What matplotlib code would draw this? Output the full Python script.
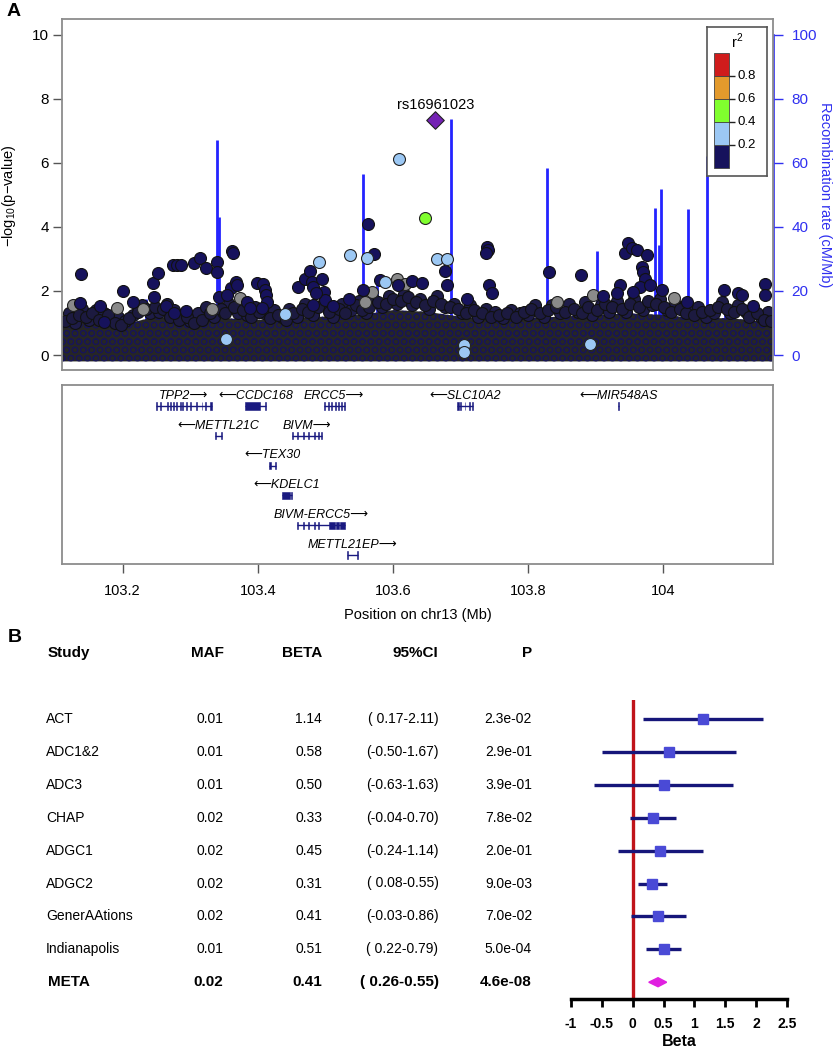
import numpy as np
import matplotlib
matplotlib.use('Agg')
import matplotlib.pyplot as plt
from matplotlib.patches import Rectangle, Polygon

plt.rcParams['font.family'] = ['Liberation Sans', 'DejaVu Sans']
plt.rcParams['axes.unicode_minus'] = False
plt.rcParams['mathtext.fontset'] = 'custom'
plt.rcParams['mathtext.rm'] = 'Liberation Sans'
plt.rcParams['hatch.linewidth'] = 0.6

W, H = 835, 1050

# ---------------- panel A : regional association ----------------
lead_name = 'rs16961023'
lead_pos, lead_logp = 103.663, 7.34

# SNPs that stand out of the dense cloud (position Mb, -log10 p)
navy_pos = [103.138, 103.200, 103.215, 103.167, 103.137, 103.172, 103.245, 103.253, 103.246, 103.264,
            103.276, 103.294, 103.275, 103.280, 103.287, 103.306, 103.315, 103.324, 103.339, 103.340,
            103.342, 103.362, 103.364, 103.360, 103.368, 103.370, 103.384, 103.389, 103.354, 103.399,
            103.408, 103.411, 103.413, 103.414, 103.407, 103.460, 103.470, 103.477, 103.480, 103.482,
            103.496, 103.498, 103.500, 103.487, 103.482, 103.512, 103.536, 103.556, 103.563, 103.573,
            103.581, 103.608, 103.628, 103.644, 103.678, 103.680, 103.710, 103.739, 103.741, 103.738,
            103.742, 103.747, 103.831, 103.879, 103.911, 103.937, 103.932, 103.944, 103.949, 103.955,
            103.962, 103.977, 103.970, 103.971, 103.974, 103.966, 103.981, 103.999, 103.956, 104.036,
            104.091, 104.112, 104.117, 104.152, 104.152, 104.134]
navy_logp = [2.53, 2.01, 1.66, 1.53, 1.63, 1.04, 2.26, 2.57, 1.82, 1.53,
             1.32, 1.38, 2.81, 2.81, 2.81, 2.86, 3.02, 2.73, 2.91, 2.58,
             1.82, 3.26, 3.20, 2.08, 2.29, 2.19, 1.66, 1.46, 1.87, 2.24,
             2.22, 2.03, 1.87, 1.66, 1.46, 2.13, 2.36, 2.63, 2.29, 2.13,
             2.36, 1.98, 1.72, 1.93, 1.56, 1.53, 1.74, 2.03, 4.09, 3.15,
             2.34, 2.19, 2.32, 2.26, 2.63, 2.19, 1.75, 3.38, 3.28, 3.17,
             2.19, 1.95, 2.60, 2.50, 1.84, 2.19, 1.93, 3.19, 3.49, 3.33,
             3.28, 3.12, 2.76, 2.60, 2.36, 2.13, 2.19, 2.03, 1.98, 1.66,
             2.03, 1.95, 1.87, 2.22, 1.87, 1.53]
gray_pos = [103.127, 103.191, 103.230, 103.332, 103.374, 103.569, 103.559, 103.606, 103.618, 103.843,
            103.897, 104.016]
gray_logp = [1.56, 1.46, 1.43, 1.43, 1.77, 1.98, 1.66, 2.36, 2.22, 1.66,
             1.87, 1.77]
ltblue_pos = [103.491, 103.537, 103.562, 103.589, 103.440, 103.353, 103.609, 103.666, 103.681, 103.706,
              103.706, 103.893]
ltblue_logp = [2.91, 3.12, 3.02, 2.27, 1.28, 0.50, 6.11, 2.99, 2.99, 0.31,
               0.10, 0.34]
green_pos = [103.648]
green_logp = [4.29]

# upper layers of the dense cloud of weak SNPs
cloud_pos = [103.115, 103.125, 103.135, 103.145, 103.155, 103.165, 103.178, 103.188, 103.198, 103.210,
             103.222, 103.235, 103.248, 103.260, 103.270, 103.283, 103.295, 103.305, 103.318, 103.330,
             103.345, 103.352, 103.365, 103.378, 103.390, 103.402, 103.418, 103.430, 103.442, 103.452,
             103.465, 103.475, 103.490, 103.505, 103.520, 103.530, 103.545, 103.555, 103.565, 103.578,
             103.590, 103.600, 103.612, 103.622, 103.635, 103.648, 103.660, 103.672, 103.685, 103.697,
             103.708, 103.720, 103.732, 103.745, 103.757, 103.770, 103.782, 103.795, 103.805, 103.818,
             103.830, 103.842, 103.855, 103.868, 103.880, 103.890, 103.902, 103.915, 103.925, 103.940,
             103.952, 103.965, 103.978, 103.990, 104.002, 104.012, 104.025, 104.035, 104.047, 104.058,
             104.070, 104.082, 104.095, 104.105, 104.118, 104.128, 104.140, 104.150, 104.160]
cloud_logp = [1.05, 1.15, 1.25, 1.20, 1.30, 1.10, 1.25, 1.00, 0.95, 1.15,
              1.35, 1.45, 1.50, 1.45, 1.20, 1.10, 1.20, 1.00, 1.10, 1.30,
              1.45, 1.30, 1.50, 1.40, 1.20, 1.35, 1.15, 1.25, 1.10, 1.30,
              1.45, 1.35, 1.50, 1.35, 1.45, 1.30, 1.55, 1.40, 1.50, 1.65,
              1.60, 1.75, 1.70, 1.80, 1.65, 1.55, 1.70, 1.60, 1.50, 1.45,
              1.30, 1.40, 1.30, 1.20, 1.25, 1.30, 1.20, 1.35, 1.45, 1.30,
              1.40, 1.50, 1.35, 1.45, 1.30, 1.50, 1.40, 1.60, 1.50, 1.45,
              1.60, 1.50, 1.70, 1.60, 1.50, 1.35, 1.45, 1.30, 1.25, 1.35,
              1.40, 1.50, 1.45, 1.35, 1.45, 1.20, 1.30, 1.10, 1.05]
cloud2_pos = [103.120, 103.130, 103.140, 103.150, 103.160, 103.172, 103.183, 103.193, 103.204, 103.216,
              103.228, 103.241, 103.254, 103.265, 103.276, 103.289, 103.300, 103.312, 103.324, 103.336,
              103.348, 103.358, 103.371, 103.384, 103.396, 103.410, 103.424, 103.436, 103.447, 103.458,
              103.470, 103.482, 103.497, 103.512, 103.525, 103.538, 103.550, 103.560, 103.571, 103.584,
              103.595, 103.606, 103.617, 103.629, 103.641, 103.654, 103.666, 103.678, 103.691, 103.703,
              103.714, 103.726, 103.738, 103.751, 103.763, 103.776, 103.788, 103.800, 103.811, 103.824,
              103.836, 103.848, 103.861, 103.874, 103.885, 103.896, 103.908, 103.920, 103.933, 103.946,
              103.958, 103.971, 103.984, 103.996, 104.007, 104.018, 104.030, 104.041, 104.052, 104.064,
              104.076, 104.088, 104.100, 104.111, 104.123, 104.134, 104.145, 104.156]
cloud2_logp = [1.30, 1.00, 1.45, 1.10, 1.40, 1.30, 1.15, 1.20, 1.05, 1.25,
               1.55, 1.30, 1.35, 1.60, 1.40, 1.25, 1.05, 1.30, 1.50, 1.20,
               1.35, 1.60, 1.30, 1.25, 1.50, 1.30, 1.40, 1.20, 1.45, 1.20,
               1.60, 1.25, 1.60, 1.20, 1.60, 1.40, 1.70, 1.30, 1.75, 1.50,
               1.85, 1.60, 1.90, 1.55, 1.75, 1.45, 1.85, 1.50, 1.60, 1.30,
               1.55, 1.20, 1.45, 1.35, 1.15, 1.40, 1.30, 1.25, 1.55, 1.20,
               1.55, 1.30, 1.60, 1.35, 1.65, 1.25, 1.55, 1.35, 1.70, 1.35,
               1.75, 1.40, 1.55, 1.75, 1.40, 1.60, 1.50, 1.40, 1.50, 1.20,
               1.30, 1.65, 1.30, 1.55, 1.35, 1.45, 1.20, 1.35]
# solid part of the cloud (top of the mass)
band_pos = [103.110, 103.15, 103.20, 103.25, 103.30, 103.35, 103.40, 103.45, 103.50, 103.55, 103.60,
            103.65, 103.70, 103.75, 103.80, 103.85, 103.90, 103.95, 104.00, 104.05, 104.10, 104.165]
band_top = [1.00, 1.05, 0.95, 1.20, 1.05, 1.15, 1.10, 1.15, 1.20, 1.25, 1.40,
            1.35, 1.20, 1.10, 1.15, 1.20, 1.25, 1.30, 1.25, 1.15, 1.15, 1.00]

# recombination rate peaks (cM/Mb)
recomb_pos = [103.234, 103.340, 103.343, 103.556, 103.577, 103.686, 103.828, 103.902, 103.988, 103.995,
              103.998, 104.037, 104.066, 104.093]
recomb_rate = [17.5, 67.0, 43.0, 56.4, 25.0, 73.6, 58.5, 32.6, 45.8, 34.5,
               51.8, 45.6, 62.0, 17.8]

r2_edges = [0.0, 0.2, 0.4, 0.6, 0.8, 1.0]
r2_colors = ['#16125c', '#9cc8f4', '#80ff2e', '#e39a2c', '#d01c1c']

# ---------------- genes ----------------
gene_name = ['TPP2', 'CCDC168', 'ERCC5', 'SLC10A2', 'MIR548AS', 'METTL21C', 'BIVM', 'TEX30',
             'KDELC1', 'BIVM-ERCC5', 'METTL21EP']
gene_strand = [1, -1, 1, -1, -1, -1, 1, -1, -1, 1, 1]
gene_row = [0, 0, 0, 0, 0, 1, 1, 2, 3, 4, 5]
gene_start = [103.2495, 103.3810, 103.4975, 103.6957, 103.9338, 103.3367, 103.4504, 103.4167,
              103.4356, 103.4578, 103.5319]
gene_end = [103.3320, 103.4120, 103.5290, 103.7194, 103.9346, 103.3476, 103.4948, 103.4271,
            103.4513, 103.5293, 103.5481]
gene_exons = [
    [(103.2495, 103.2510), (103.2550, 103.2562), (103.2655, 103.2672), (103.2695, 103.2712),
     (103.2745, 103.2762), (103.2795, 103.2812), (103.2845, 103.2860), (103.2885, 103.2900),
     (103.2935, 103.2950), (103.2990, 103.3005), (103.3090, 103.3102), (103.3170, 103.3182),
     (103.3225, 103.3237), (103.3295, 103.3320)],
    [(103.3810, 103.4030), (103.4105, 103.4120)],
    [(103.4975, 103.4992), (103.5040, 103.5055), (103.5090, 103.5105), (103.5140, 103.5155),
     (103.5190, 103.5205), (103.5240, 103.5255), (103.5272, 103.5290)],
    [(103.6957, 103.6985), (103.7000, 103.7015), (103.7065, 103.7078), (103.7130, 103.7142),
     (103.7182, 103.7194)],
    [(103.9338, 103.9346)],
    [(103.3367, 103.3382), (103.3460, 103.3476)],
    [(103.4504, 103.4520), (103.4580, 103.4595), (103.4670, 103.4684), (103.4743, 103.4757),
     (103.4840, 103.4855), (103.4890, 103.4905), (103.4932, 103.4948)],
    [(103.4167, 103.4200), (103.4255, 103.4271)],
    [(103.4356, 103.4480), (103.4496, 103.4513)],
    [(103.4578, 103.4592), (103.4670, 103.4684), (103.4743, 103.4757), (103.4840, 103.4855),
     (103.4890, 103.4905), (103.5060, 103.5150), (103.5162, 103.5210), (103.5225, 103.5293)],
    [(103.5319, 103.5334), (103.5465, 103.5481)],
]
pos_ticks = [103.2, 103.4, 103.6, 103.8, 104.0]

# ---------------- panel B : meta-analysis ----------------
studies = ['ACT', 'ADC1&2', 'ADC3', 'CHAP', 'ADGC1', 'ADGC2', 'GenerAAtions', 'Indianapolis', 'META']
maf = [0.01, 0.01, 0.01, 0.02, 0.02, 0.02, 0.02, 0.01, 0.02]
beta = [1.14, 0.58, 0.50, 0.33, 0.45, 0.31, 0.41, 0.51, 0.41]
ci_lo = [0.17, -0.50, -0.63, -0.04, -0.24, 0.08, -0.03, 0.22, 0.26]
ci_hi = [2.11, 1.67, 1.63, 0.70, 1.14, 0.55, 0.86, 0.79, 0.55]
pval = [2.3e-02, 2.9e-01, 3.9e-01, 7.8e-02, 2.0e-01, 9.0e-03, 7.0e-02, 5.0e-04, 4.6e-08]
beta_ticks = [-1, -0.5, 0, 0.5, 1, 1.5, 2, 2.5]


def r2_color(r2):
    if r2 is None:
        return '#8a8a8a'
    for lo, hi, c in zip(r2_edges[:-1], r2_edges[1:], r2_colors):
        if lo <= r2 < hi:
            return c
    return r2_colors[-1]


fig = plt.figure(figsize=(W / 100, H / 100), dpi=100)


def px_axes(left, top, right, bottom):
    return fig.add_axes([left / W, 1 - bottom / H, (right - left) / W, (bottom - top) / H])


# overlay for free text, in pixel units
tab = px_axes(0, 0, W, H)
tab.set_xlim(0, W)
tab.set_ylim(H, 0)
tab.axis('off')

FRAME = '#8c8c8c'
BLUE = '#3030f0'

# ---- association plot ----
ax = px_axes(62, 19, 773, 370)
ax2 = ax.twinx()
ax.set_zorder(ax2.get_zorder() + 1)
ax.patch.set_visible(False)

xlim = (103.1101, 104.1634)
ax.set_xlim(*xlim)
ax.set_ylim(-0.468, 10.49)
ax2.set_ylim(-4.68, 104.9)

ax2.vlines(recomb_pos, 0, recomb_rate, color='#2424ff', lw=2.0, zorder=1)

ax.fill_between(band_pos, -0.2, band_top, facecolor='#262626', edgecolor='#17145a', hatch='OO',
                lw=0, zorder=1)
ms = 74
ax.scatter(cloud2_pos, cloud2_logp, s=ms, c='#1e1c48', edgecolors='#111111', linewidths=0.8, zorder=2)
ax.scatter(cloud_pos, cloud_logp, s=ms, c='#1c1a40', edgecolors='#111111', linewidths=0.8, zorder=2)
ax.scatter(gray_pos, gray_logp, s=ms, c=r2_color(None), edgecolors='#222222', linewidths=0.8, zorder=3)
ax.scatter(navy_pos, navy_logp, s=ms, c=r2_color(0.1), edgecolors='#111111', linewidths=0.8, zorder=3)
ax.scatter(ltblue_pos, ltblue_logp, s=ms, c=r2_color(0.3), edgecolors='#222222', linewidths=0.8, zorder=4)
ax.scatter(green_pos, green_logp, s=ms, c=r2_color(0.5), edgecolors='#222222', linewidths=0.8, zorder=4)
ax.scatter([lead_pos], [lead_logp], s=80, marker='D', c='#7422b4', edgecolors='#222222',
           linewidths=0.8, zorder=5)
ax.annotate(lead_name, (lead_pos, lead_logp), xytext=(0, 11), textcoords='offset points',
            ha='center', va='center', fontsize=10.5, zorder=6)

ax.set_yticks([0, 2, 4, 6, 8, 10])
ax.set_xticks([])
ax.tick_params(axis='y', length=6.5, width=1, color='#555555', labelsize=11, pad=3)
for s in ax.spines.values():
    s.set_color(FRAME)
    s.set_linewidth(1.3)
ax2.set_yticks([0, 20, 40, 60, 80, 100])
ax2.tick_params(axis='y', length=6.5, width=1, color=BLUE, labelcolor=BLUE, labelsize=11, pad=6)
for name, s in ax2.spines.items():
    s.set_visible(False)
ax2.spines['right'].set_visible(True)
ax2.spines['right'].set_color(BLUE)
ax2.spines['right'].set_linewidth(1.2)
ax2.spines['right'].set_bounds(0, 100)
ax2.spines['right'].set_position(('outward', 1))

tab.text(9, 196, r'$-$log$_{10}$(p$-$value)', rotation=90, ha='center', va='center', fontsize=10.5)
tab.text(825, 195, 'Recombination rate (cM/Mb)', rotation=270, ha='center', va='center',
         fontsize=10.5, color=BLUE)
tab.text(14, 12, 'A', fontsize=14, fontweight='bold', ha='center', va='center')
tab.text(15, 637, 'B', fontsize=14, fontweight='bold', ha='center', va='center')

# r2 legend
leg = px_axes(706.7, 26.7, 766.7, 176)
leg.set_zorder(10)
leg.set_xlim(0, 60)
leg.set_ylim(-0.0666, 1.225)
leg.bar(7.6, 0.2, width=15, bottom=r2_edges[:-1], color=r2_colors, align='edge',
        edgecolor='#444444', linewidth=0.6)
leg.hlines(r2_edges[1:-1], 22.6, 28.4, color='#222222', lw=1)
for v in r2_edges[1:-1]:
    leg.text(31, v, f'{v:.1f}', fontsize=9.5, va='center', ha='left')
leg.text(30, 1.10, r'r$^2$', fontsize=10.5, ha='center', va='center')
leg.set_xticks([])
leg.set_yticks([])
for s in leg.spines.values():
    s.set_color('#555555')
    s.set_linewidth(1.2)

# ---- gene track ----
ga = px_axes(62, 385, 773, 564)
ga.set_xlim(*xlim)
ga.set_ylim(5.302, -0.705)
GENE = '#1a1a80'
for name, st, en, strand, row, exons in zip(gene_name, gene_start, gene_end, gene_strand,
                                            gene_row, gene_exons):
    ga.hlines(row, st, en, color=GENE, lw=1.0)
    for e0, e1 in exons:
        ga.add_patch(Rectangle((e0, row - 0.12), e1 - e0, 0.24, color=GENE, lw=0.4))
    label = name + '\u27f6' if strand > 0 else '\u27f5' + name
    ga.text((st + en) / 2, row - 0.34, label, ha='center', va='center', fontsize=9,
            style='italic')
ga.set_yticks([])
ga.set_xticks(pos_ticks)
ga.set_xticklabels([f'{t:g}' for t in pos_ticks])
ga.tick_params(axis='x', length=6.5, width=1, color='#555555', labelsize=10.5, pad=8)
for s in ga.spines.values():
    s.set_color(FRAME)
    s.set_linewidth(1.3)
tab.text(417.5, 615, 'Position on chr13 (Mb)', ha='center', va='center', fontsize=10.5)

# ---- meta-analysis table ----
row_y0, row_dy = 719, 32.9
col_study, col_maf, col_beta, col_ci, col_p = 46, 223.5, 322, 438.5, 532
hy = 653
tab.text(col_study + 2, hy, 'Study', fontsize=11, fontweight='bold', va='center', ha='left')
tab.text(col_maf, hy, 'MAF', fontsize=11, fontweight='bold', va='center', ha='right')
tab.text(col_beta, hy, 'BETA', fontsize=11, fontweight='bold', va='center', ha='right')
tab.text(col_ci, hy, '95%CI', fontsize=11, fontweight='bold', va='center', ha='right')
tab.text(col_p, hy, 'P', fontsize=11, fontweight='bold', va='center', ha='right')
for i, (st, m, b, lo, hi, p) in enumerate(zip(studies, maf, beta, ci_lo, ci_hi, pval)):
    y = row_y0 + row_dy * i
    meta = st == 'META'
    kw = dict(fontsize=11 if meta else 10, fontweight='bold' if meta else 'normal', va='center')
    tab.text(col_study + (2 if meta else 0), y, st, ha='left', **kw)
    tab.text(col_maf, y, f'{m:.2f}', ha='right', **kw)
    tab.text(col_beta, y, f'{b:.2f}', ha='right', **kw)
    tab.text(col_ci, y, f'({lo:5.2f}-{hi:.2f})', ha='right', **kw)
    tab.text(col_p, y, f'{p:.1e}', ha='right', **kw)

# ---- forest plot ----
fa = px_axes(571, 700, 787, 999)
fa.set_xlim(-1, 2.5)
fa.set_ylim(-8.51, 0.578)
fa.axvline(0, color='#c0141a', lw=2.4, zorder=1)
n = len(studies) - 1
rows = -np.arange(len(studies))
fa.hlines(rows[:n], ci_lo[:n], ci_hi[:n], color='#16167a', lw=2.4, zorder=2)
fa.plot(beta[:n], rows[:n], 's', ms=7, color='#4a4ad6', zorder=3)
h = 0.137
fa.add_patch(Polygon([(ci_lo[n], rows[n]), (beta[n], rows[n] + h), (ci_hi[n], rows[n]),
                      (beta[n], rows[n] - h)], closed=True, color='#e020e0', zorder=3))
for s in ['top', 'left', 'right']:
    fa.spines[s].set_visible(False)
fa.spines['bottom'].set_linewidth(2.5)
fa.set_yticks([])
fa.set_xticks(beta_ticks)
fa.set_xticklabels([f'{t:g}' for t in beta_ticks])
fa.tick_params(axis='x', length=6, width=2, labelsize=10, pad=7)
for lab in fa.get_xticklabels():
    lab.set_fontweight('bold')
tab.text(679, 1041, 'Beta', fontsize=11.5, fontweight='bold', ha='center', va='center')

fig.savefig('out.png', dpi=100)
